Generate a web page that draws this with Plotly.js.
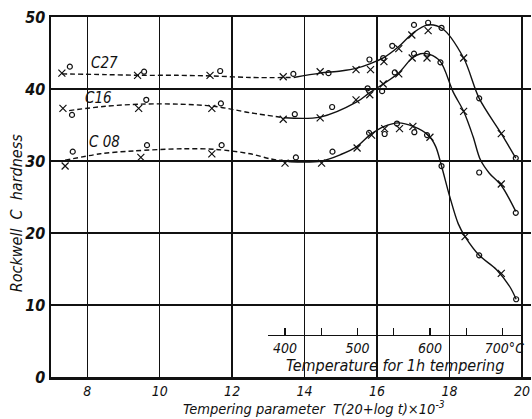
<!DOCTYPE html>
<html>
<head>
<meta charset="utf-8">
<script src="https://cdn.plot.ly/plotly-3.0.1.min.js"></script>
<style>html,body{margin:0;padding:0;background:#fff;}#chart{width:532px;height:419px;}</style>
</head>
<body>
<div id="chart"></div>
<script>
// ---- data ----
const steels = ["C27", "C16", "C 08"];

// "x" markers
const c27xP = [7.30, 9.39, 11.39, 13.41, 14.43, 15.42, 15.82, 16.19, 16.60, 16.96, 17.41, 18.39, 19.43];
const c27xH = [42.2, 41.9, 41.9, 41.7, 42.4, 42.7, 42.7, 43.8, 45.6, 47.5, 48.1, 44.3, 33.8];
const c16xP = [7.33, 9.42, 11.44, 13.41, 14.43, 15.42, 15.80, 16.17, 16.60, 16.97, 17.38, 18.39, 19.43];
const c16xH = [37.3, 37.3, 37.3, 35.8, 36.0, 38.5, 39.2, 40.7, 42.1, 44.3, 44.3, 36.9, 26.8];
const c08xP = [7.39, 9.48, 11.44, 13.46, 14.47, 15.45, 15.85, 16.21, 16.62, 16.99, 17.46, 18.43, 19.43];
const c08xH = [29.3, 30.5, 31.0, 29.7, 29.7, 31.8, 33.6, 34.5, 34.5, 34.8, 33.3, 19.5, 14.4];

// "o" markers
const c27oP = [7.52, 9.57, 11.67, 13.69, 14.66, 15.79, 16.17, 16.42, 17.02, 17.41, 17.78, 18.82, 19.83];
const c27oH = [43.1, 42.4, 42.5, 42.1, 42.2, 44.1, 44.3, 46.0, 48.9, 49.2, 48.5, 38.7, 30.4];
const c16oP = [7.58, 9.63, 11.69, 13.73, 14.76, 15.74, 16.14, 16.49, 17.02, 17.38, 17.75, 18.82, 19.83];
const c16oH = [36.4, 38.5, 38.0, 36.5, 37.5, 40.1, 39.7, 42.3, 44.9, 44.9, 43.7, 28.4, 22.8];
const c08oP = [7.60, 9.65, 11.71, 13.76, 14.77, 15.78, 16.21, 16.55, 17.03, 17.38, 17.78, 18.82, 19.84];
const c08oH = [31.3, 32.2, 32.2, 30.5, 31.3, 33.9, 33.75, 35.2, 34.0, 33.6, 29.3, 16.9, 10.8];

// fitted curves (dashed part, then solid part)
const c27dashP = [7.30, 8.5, 9.5, 10.5, 11.5, 12.5, 13.7];
const c27dashH = [42.1, 42.0, 41.9, 41.9, 41.8, 41.6, 41.6];
const c27solP  = [13.7, 14.43, 15.0, 15.44, 15.8, 16.2, 16.6, 17.0, 17.4, 17.8, 18.39, 18.82, 19.43, 19.83];
const c27solH  = [41.6, 42.2, 42.5, 42.9, 43.5, 44.4, 45.9, 47.8, 48.9, 48.4, 44.3, 38.7, 33.8, 30.4];

const c16dashP = [7.50, 8.5, 9.5, 10.5, 11.5, 12.5, 13.45];
const c16dashH = [37.0, 37.6, 37.9, 37.9, 37.6, 36.7, 36.0];
const c16solP  = [13.45, 14.43, 15.44, 15.8, 16.17, 16.59, 16.97, 17.2, 17.45, 17.75, 18.1, 18.39, 18.65, 18.85, 19.1, 19.43, 19.83];
const c16solH  = [36.0, 36.1, 38.2, 39.5, 40.7, 42.2, 44.3, 44.9, 44.8, 43.8, 39.6, 36.9, 33.4, 30.2, 28.3, 26.6, 23.0];

const c08dashP = [7.39, 8.36, 9.28, 10.65, 11.57, 12.5, 13.05, 13.6];
const c08dashH = [30.1, 31.0, 31.4, 31.7, 31.6, 31.0, 30.3, 29.9];
const c08solP  = [13.6, 14.47, 15.0, 15.44, 15.8, 16.2, 16.59, 17.0, 17.41, 17.62, 17.78, 18.01, 18.24, 18.43, 18.82, 19.3, 19.67, 19.84];
const c08solH  = [29.9, 30.0, 30.9, 32.0, 33.6, 34.8, 35.3, 34.8, 33.6, 32.0, 29.3, 25.0, 21.3, 19.5, 16.9, 14.9, 12.5, 10.8];

// label positions for the steel names
const labelP = [8.47, 8.32, 8.47];
const labelH = [43.6, 38.75, 32.7];

// axes
const paramTicks = [8, 10, 12, 14, 16, 18, 20];
const hardTicks = [0, 10, 20, 30, 40, 50];
const tempTicks = [400, 500, 600, 700];
const tempLabels = ["400", "500", "600", "\u00a0700°C"];
const tempMinorStep = 50;

// ---- build ----
const FONT = "'Liberation Sans Narrow', 'DejaVu Sans Condensed', 'DejaVu Sans', sans-serif";
const ink = "#111";
const xRange = [7, 20.25];
const span = xRange[1] - xRange[0];
const tempStartP = 13.0, tempEndP = 20.0;          // where the temperature scale is drawn
const pToT = p => p / 0.02 - 273;                 // 1 h tempering: P = (T+273)(20+0)/1000

function line(p, h, dash) {
  return {x: p, y: h, type: "scatter", mode: "lines", hoverinfo: "skip", showlegend: false,
    line: {color: ink, width: 1.4, shape: "spline", smoothing: 0.9, dash: dash ? "5px,3px" : "solid"}};
}
function marks(p, h, sym, size) {
  return {x: p, y: h, type: "scatter", mode: "markers", hoverinfo: "skip", showlegend: false,
    marker: {symbol: sym, size: size, color: ink, line: {color: ink, width: 1.2}}};
}

const traces = [
  {x: tempTicks, y: tempTicks.map(() => null), xaxis: "x2", yaxis: "y", type: "scatter",
   mode: "markers", hoverinfo: "skip", showlegend: false},
  line(c27dashP, c27dashH, true), line(c27solP, c27solH, false),
  line(c16dashP, c16dashH, true), line(c16solP, c16solH, false),
  line(c08dashP, c08dashH, true), line(c08solP, c08solH, false),
  marks(c27xP, c27xH, "x-thin-open", 7), marks(c27oP, c27oH, "circle-open", 5),
  marks(c16xP, c16xH, "x-thin-open", 7), marks(c16oP, c16oH, "circle-open", 5),
  marks(c08xP, c08xH, "x-thin-open", 7), marks(c08oP, c08oH, "circle-open", 5)
];

const annotations = steels.map((s, i) => ({
  x: labelP[i], y: labelH[i], xref: "x", yref: "y", text: s, showarrow: false,
  font: {family: FONT, size: 15, color: ink, style: "italic"}
}));
annotations.push({
  xref: "paper", yref: "paper", x: 0.548, y: -0.085, yanchor: "middle",
  text: "Tempering parameter  T(20+log t)×10<sup>-3</sup>", showarrow: false,
  font: {family: FONT, size: 14.5, color: ink, style: "italic"}
});
annotations.push({
  xref: "paper", yref: "paper", x: -0.072, y: 0.456, xanchor: "center", yanchor: "middle",
  textangle: -90, text: "Rockwell  C  hardness", showarrow: false,
  font: {family: FONT, size: 16, color: ink, style: "italic"}
});

const layout = {
  width: 532, height: 419,
  margin: {l: 51, r: 1, t: 17, b: 42},
  paper_bgcolor: "#fff", plot_bgcolor: "rgba(0,0,0,0)",
  showlegend: false,
  xaxis: {
    range: xRange, tickvals: paramTicks, ticktext: paramTicks.map(String),
    showgrid: true, gridcolor: ink, gridwidth: 1.3, zeroline: false,
    showline: true, linecolor: ink, linewidth: 2.5, mirror: true, ticks: "",
    ticklabelstandoff: 0,
    tickfont: {family: FONT, size: 14, color: ink, style: "italic"}
  },
  yaxis: {
    range: [0, 50], tickvals: hardTicks, ticktext: hardTicks.map(String),
    showgrid: true, gridcolor: ink, gridwidth: 1.3, zeroline: false,
    showline: true, linecolor: ink, linewidth: 2.5, ticks: "",
    tickfont: {family: FONT, size: 16, color: ink, style: "italic", weight: "bold"}
  },
  xaxis2: {
    anchor: "free", position: 0.117, side: "bottom",
    domain: [(tempStartP - xRange[0]) / span, (tempEndP - xRange[0]) / span],
    range: [pToT(tempStartP), pToT(tempEndP)],
    tickvals: tempTicks, ticktext: tempLabels,
    ticks: "inside", ticklen: 7, tickwidth: 1.3, tickcolor: ink,
    minor: {ticks: "inside", tick0: tempTicks[0], dtick: tempMinorStep, ticklen: 7,
            tickwidth: 1.3, tickcolor: ink, showgrid: false},
    showline: true, linecolor: ink, linewidth: 1.6, showgrid: false, zeroline: false,
    tickfont: {family: FONT, size: 14, color: ink, style: "italic"},
    title: {text: "Temperature for 1h tempering", standoff: 1,
            font: {family: FONT, size: 16, color: ink, style: "italic"}}
  },
  annotations: annotations
};

Plotly.newPlot("chart", traces, layout, {displayModeBar: false, staticPlot: true});
</script>
</body>
</html>
